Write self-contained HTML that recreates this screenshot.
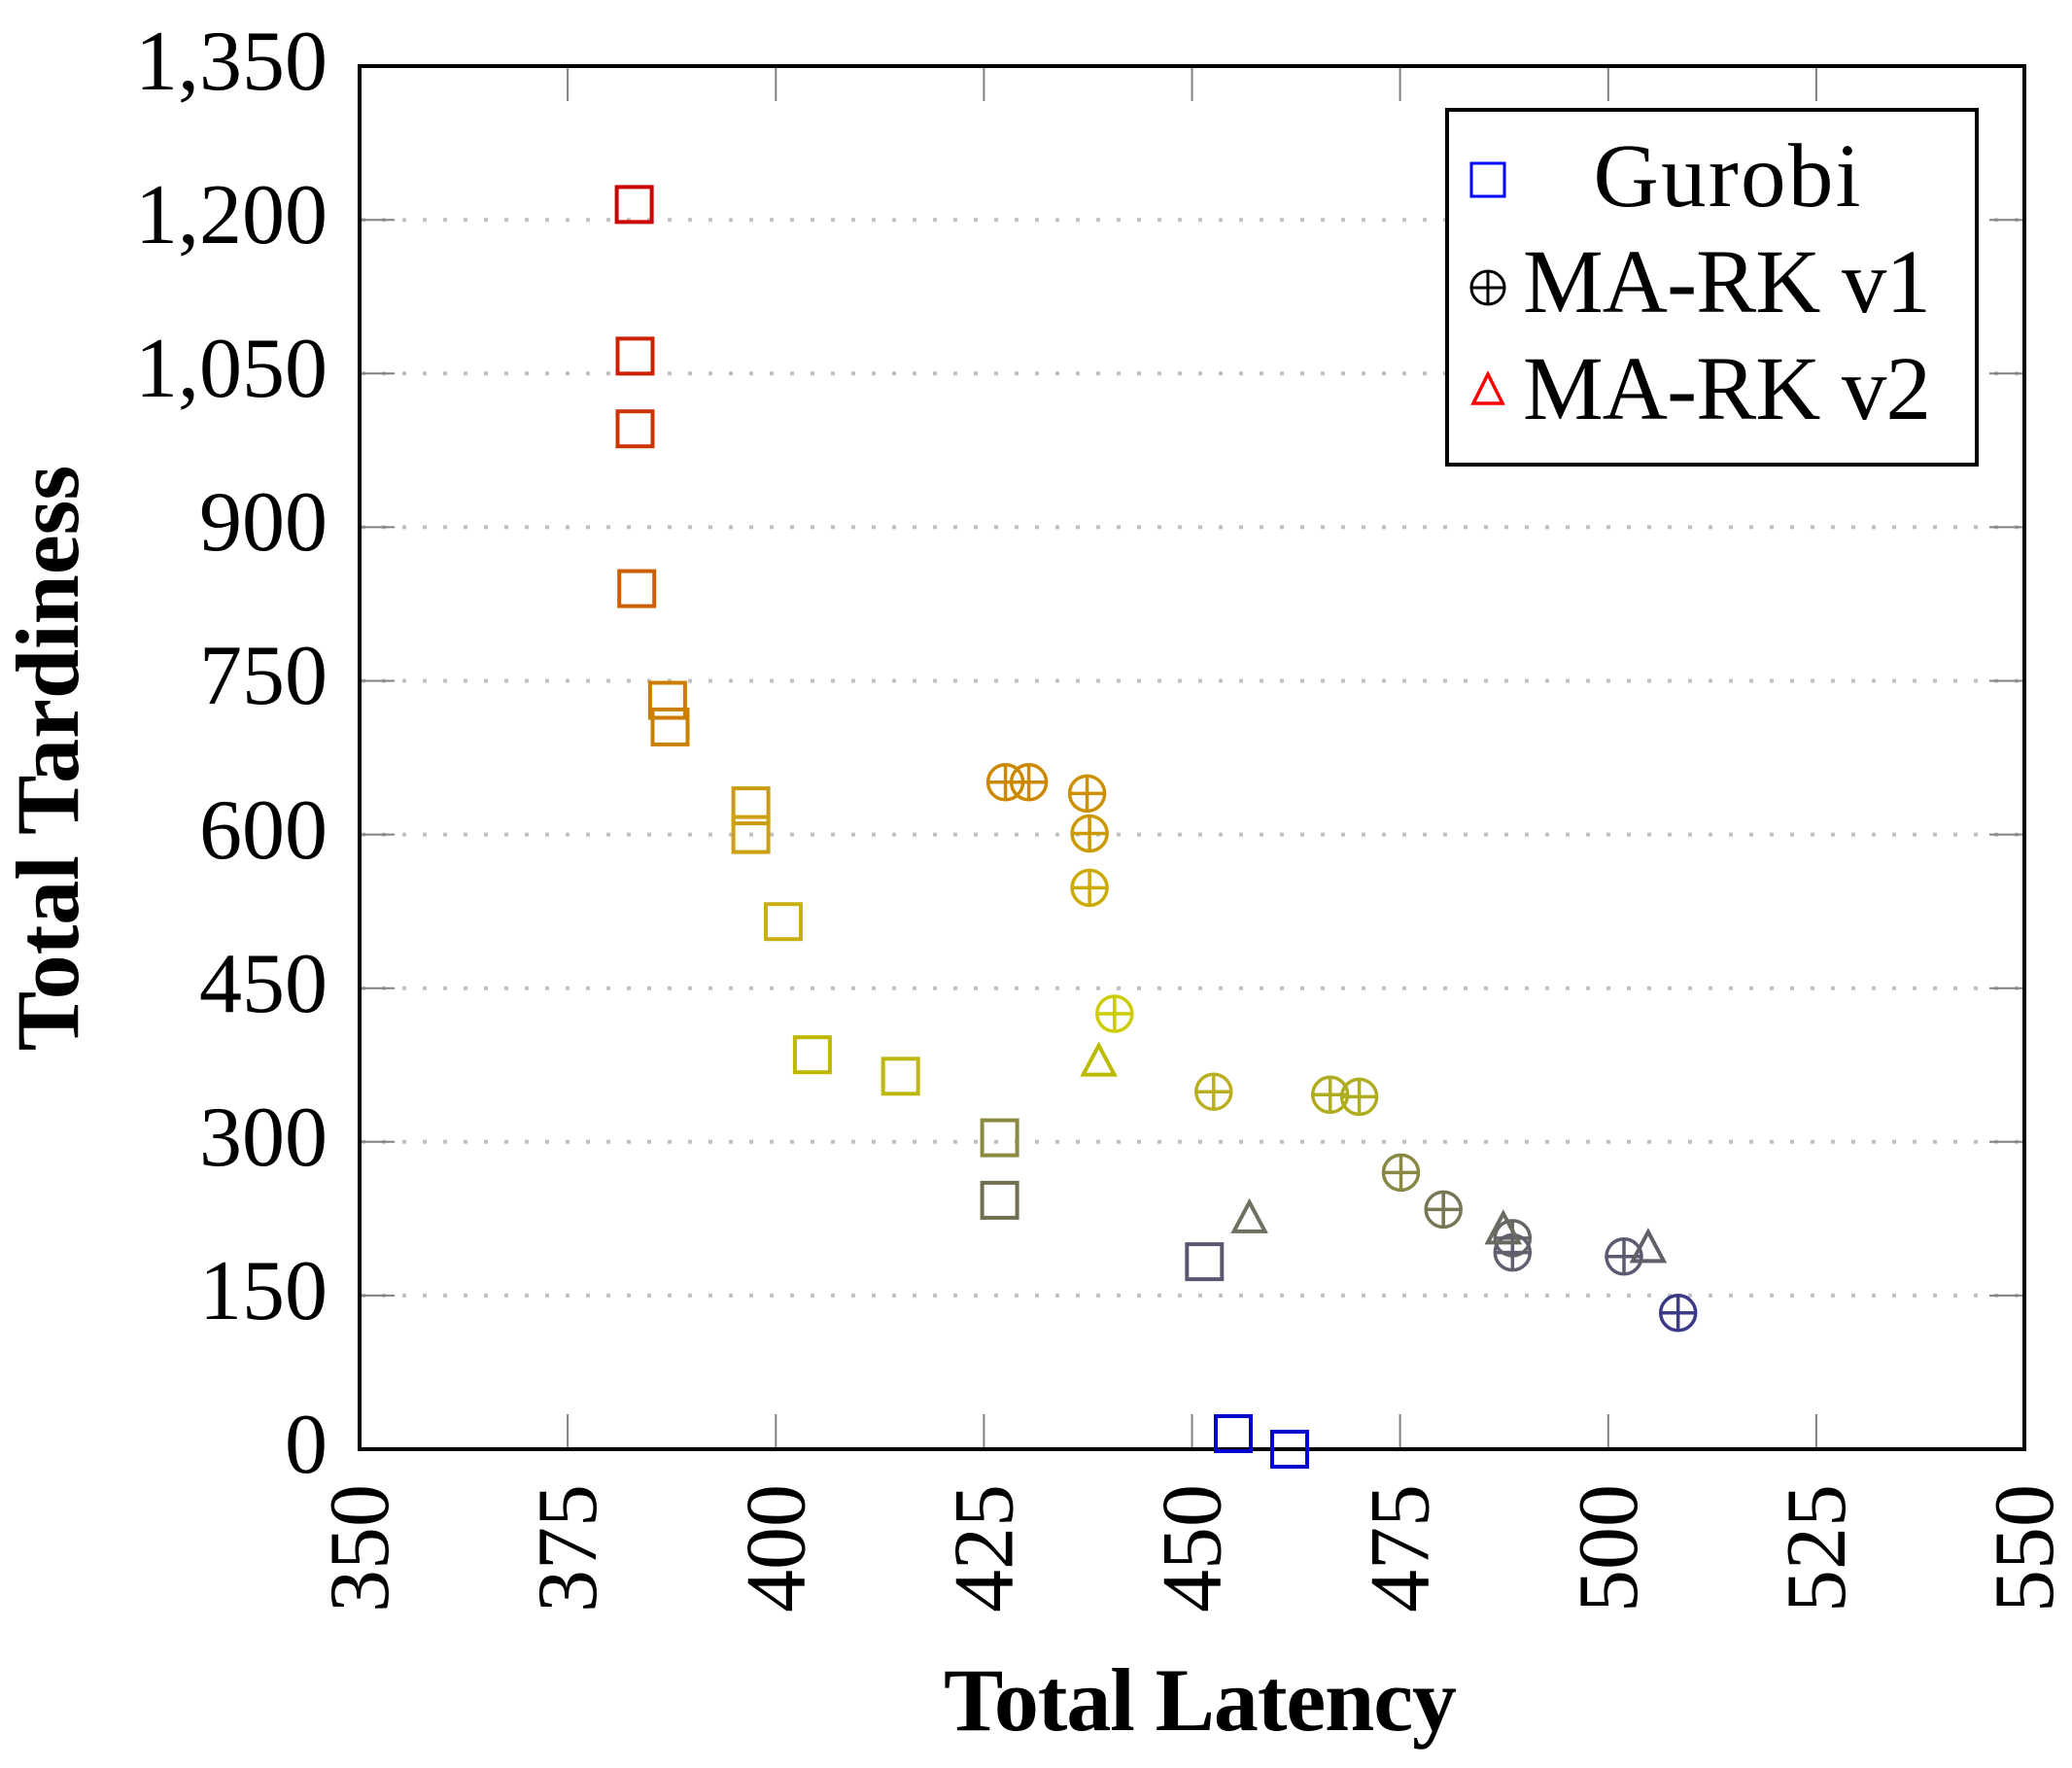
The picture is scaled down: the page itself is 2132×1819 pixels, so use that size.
<!DOCTYPE html>
<html><head><meta charset="utf-8"><style>html,body{margin:0;padding:0;background:#fff}svg{display:block}</style></head>
<body>
<svg width="2132" height="1819" viewBox="0 0 2132 1819" xmlns="http://www.w3.org/2000/svg" font-family="'Liberation Serif', serif">
<rect width="2132" height="1819" fill="#fff"/>
<!-- grid -->
<g stroke="#c0c0c0" stroke-width="4" stroke-dasharray="4 17">
<line x1="372" x2="2081" y1="1332.9" y2="1332.9"/>
<line x1="372" x2="2081" y1="1174.8" y2="1174.8"/>
<line x1="372" x2="2081" y1="1016.7" y2="1016.7"/>
<line x1="372" x2="2081" y1="858.6" y2="858.6"/>
<line x1="372" x2="2081" y1="700.5" y2="700.5"/>
<line x1="372" x2="2081" y1="542.4" y2="542.4"/>
<line x1="372" x2="2081" y1="384.3" y2="384.3"/>
<line x1="372" x2="2081" y1="226.2" y2="226.2"/>
</g>
<!-- ticks -->
<g stroke="#808080" stroke-width="2">
<path d="M584.1 1491v-36M798.3 1491v-36M1012.4 1491v-36M1226.5 1491v-36M1440.6 1491v-36M1654.8 1491v-36M1868.9 1491v-36"/>
<path d="M584.1 68v36M798.3 68v36M1012.4 68v36M1226.5 68v36M1440.6 68v36M1654.8 68v36M1868.9 68v36"/>
<path d="M370 1332.9h36M370 1174.8h36M370 1016.7h36M370 858.6h36M370 700.5h36M370 542.4h36M370 384.3h36M370 226.2h36"/>
<path d="M2083 1332.9h-36M2083 1174.8h-36M2083 1016.7h-36M2083 858.6h-36M2083 700.5h-36M2083 542.4h-36M2083 384.3h-36M2083 226.2h-36"/>
</g>
<rect x="370" y="68" width="1713" height="1423" fill="none" stroke="#000" stroke-width="4"/>
<!-- y labels -->
<g font-size="88" text-anchor="end" fill="#000">
<text x="337" y="1515">0</text>
<text x="337" y="1357">150</text>
<text x="337" y="1199">300</text>
<text x="337" y="1041">450</text>
<text x="337" y="883">600</text>
<text x="337" y="724">750</text>
<text x="337" y="566">900</text>
<text x="337" y="408">1,050</text>
<text x="337" y="250">1,200</text>
<text x="337" y="92">1,350</text>
</g>
<!-- x labels -->
<g font-size="88" text-anchor="end" fill="#000">
<text transform="translate(399,1527) rotate(-90)">350</text>
<text transform="translate(613.1,1527) rotate(-90)">375</text>
<text transform="translate(827.3,1527) rotate(-90)">400</text>
<text transform="translate(1041.4,1527) rotate(-90)">425</text>
<text transform="translate(1255.5,1527) rotate(-90)">450</text>
<text transform="translate(1469.6,1527) rotate(-90)">475</text>
<text transform="translate(1683.8,1527) rotate(-90)">500</text>
<text transform="translate(1897.9,1527) rotate(-90)">525</text>
<text transform="translate(2112,1527) rotate(-90)">550</text>
</g>
<text x="1235" y="1780" font-size="92" font-weight="bold" text-anchor="middle" textLength="528">Total Latency</text>
<text transform="translate(80,780) rotate(-90)" font-size="92" font-weight="bold" text-anchor="middle">Total Tardiness</text>
<!-- squares -->
<g fill="none" stroke-width="4">
<rect x="634.6" y="192.4" width="36" height="36" stroke="#cc0000"/>
<rect x="635.5" y="348.4" width="36" height="36" stroke="#cc2000"/>
<rect x="635.5" y="423.2" width="36" height="36" stroke="#cc3300"/>
<rect x="637.2" y="587.6" width="36" height="36" stroke="#cc5f00"/>
<rect x="668.9" y="702.5" width="36" height="36" stroke="#cc7d00"/>
<rect x="671.5" y="729.9" width="36" height="36" stroke="#cc8000"/>
<rect x="754.6" y="811.1" width="36" height="36" stroke="#cc9c10"/>
<rect x="754.6" y="840.6" width="36" height="36" stroke="#cca010"/>
<rect x="788" y="930.2" width="36" height="36" stroke="#c8b010"/>
<rect x="817.9" y="1067.2" width="36" height="36" stroke="#c0b800"/>
<rect x="908.7" y="1089.3" width="36" height="36" stroke="#bcb810"/>
<rect x="1010.6" y="1152.6" width="36" height="36" stroke="#8a8a40"/>
<rect x="1010.6" y="1216.9" width="36" height="36" stroke="#707050"/>
<rect x="1221.3" y="1280.1" width="36" height="36" stroke="#585870"/>
<rect x="1251" y="1457" width="36" height="36" stroke="#0000cc"/>
<rect x="1309" y="1473" width="36" height="36" stroke="#0000cc"/>
</g>
<!-- circles -->
<g fill="none" stroke-width="3.5">
<g stroke="#cc8800"><circle cx="1034.6" cy="804.8" r="18"/><path d="M1016.6 804.8h36M1034.6 786.8v36"/></g>
<g stroke="#cc8800"><circle cx="1058.6" cy="804.8" r="18"/><path d="M1040.6 804.8h36M1058.6 786.8v36"/></g>
<g stroke="#cc9000"><circle cx="1118.6" cy="816.4" r="18"/><path d="M1100.6 816.4h36M1118.6 798.4v36"/></g>
<g stroke="#cc9a00"><circle cx="1121.1" cy="857.5" r="18"/><path d="M1103.1 857.5h36M1121.1 839.5v36"/></g>
<g stroke="#ccaa00"><circle cx="1121.1" cy="913.4" r="18"/><path d="M1103.1 913.4h36M1121.1 895.4v36"/></g>
<g stroke="#cccc00"><circle cx="1146.8" cy="1043" r="18"/><path d="M1128.8 1043h36M1146.8 1025v36"/></g>
<g stroke="#b8b020"><circle cx="1248.8" cy="1123.2" r="18"/><path d="M1230.8 1123.2h36M1248.8 1105.2v36"/></g>
<g stroke="#b0ac20"><circle cx="1368.7" cy="1126.3" r="18"/><path d="M1350.7 1126.3h36M1368.7 1108.3v36"/></g>
<g stroke="#b0ac20"><circle cx="1398.6" cy="1128.4" r="18"/><path d="M1380.6 1128.4h36M1398.6 1110.4v36"/></g>
<g stroke="#888844"><circle cx="1441.5" cy="1206.4" r="18"/><path d="M1423.5 1206.4h36M1441.5 1188.4v36"/></g>
<g stroke="#777755"><circle cx="1485.2" cy="1244.4" r="18"/><path d="M1467.2 1244.4h36M1485.2 1226.4v36"/></g>
<g stroke="#666666"><circle cx="1556.3" cy="1273.9" r="18"/><path d="M1538.3 1273.9h36M1556.3 1255.9v36"/></g>
<g stroke="#5f5f70"><circle cx="1556.3" cy="1288.6" r="18"/><path d="M1538.3 1288.6h36M1556.3 1270.6v36"/></g>
<g stroke="#5a5a70"><circle cx="1671" cy="1292.8" r="18"/><path d="M1653 1292.8h36M1671 1274.8v36"/></g>
<g stroke="#3a3a88"><circle cx="1726.7" cy="1350.8" r="18"/><path d="M1708.7 1350.8h36M1726.7 1332.8v36"/></g>
</g>
<!-- triangles -->
<g fill="none" stroke-width="4" stroke-linejoin="miter">
<polygon points="1130.6,1075.6 1114.6,1105.6 1146.6,1105.6" stroke="#bbbb00"/>
<polygon points="1285.6,1236.9 1269.6,1266.9 1301.6,1266.9" stroke="#707060"/>
<polygon points="1546.8,1248.4 1530.8,1278.4 1562.8,1278.4" stroke="#6a6a60"/>
<polygon points="1695.9,1267.4 1679.9,1297.4 1711.9,1297.4" stroke="#606068"/>
</g>
<!-- legend -->
<rect x="1498" y="113" width="545" height="365" fill="#fff" stroke="#000" stroke-width="4" transform="translate(-9,0)"/>
<g transform="translate(-9,0)">
<rect x="1523" y="168" width="34" height="34" fill="none" stroke="#0000ff" stroke-width="3"/>
<g stroke="#000" stroke-width="3" fill="none"><circle cx="1540" cy="296" r="17"/><path d="M1523 296h34M1540 279v34"/></g>
<polygon points="1540,385 1525,415 1555,415" fill="none" stroke="#ff0000" stroke-width="3.5"/>
<g font-size="93" fill="#000">
<text x="1786" y="212" text-anchor="middle" textLength="275">Gurobi</text>
<text x="1576" y="321" textLength="420">MA-RK v1</text>
<text x="1576" y="431" textLength="420">MA-RK v2</text>
</g>
</g>
</svg>
</body></html>
